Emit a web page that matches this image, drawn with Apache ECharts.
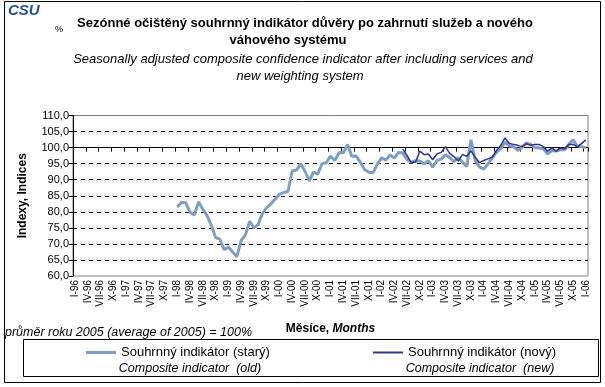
<!DOCTYPE html>
<html><head><meta charset="utf-8">
<script src="https://cdn.jsdelivr.net/npm/echarts@6/dist/echarts.min.js"></script>
<style>html,body{margin:0;padding:0;background:#fff}#c{width:605px;height:387px}</style>
</head><body><div id="c"></div>
<script>
// ---- data ----
const romanMonths = ['I','II','III','IV','V','VI','VII','VIII','IX','X','XI','XII'];
const yearCodes = ['96','97','98','99','00','01','02','03','04','05','06'];
const yTicks = [60,65,70,75,80,85,90,95,100,105,110];
// Souhrnný indikátor (starý), from I-98 to I-06
const oldStart = 'I-98';
const oldValues = [
 81.5, 83.0, 82.8, 79.8, 79.0, 83.1, 80.8, 78.8, 75.8, 72.0,
 71.4, 68.2, 69.0, 67.5, 66.0, 71.0, 72.8, 77.0, 75.0, 76.0,
 79.5, 81.3, 82.5, 84.0, 85.5, 86.0, 86.3, 92.7, 93.0, 95.0,
 92.7, 89.6, 92.4, 91.7, 95.0, 95.3, 97.4, 96.0, 98.4, 98.4,
 101.0, 97.3, 97.4, 95.5, 93.2, 92.3, 92.2, 94.8, 96.8, 96.1,
 97.7, 96.8, 98.5, 98.3, 96.3, 95.4, 95.9, 95.8, 94.9, 95.9,
 93.9, 96.0, 96.4, 97.8, 96.9, 95.6, 96.9, 95.4, 94.1, 102.4,
 96.0, 94.0, 93.3, 94.9, 96.8, 98.5, 99.6, 101.7, 100.5, 100.3,
 99.1, 100.0, 101.5, 101.0, 100.0, 99.9, 99.6, 98.0, 99.1, 98.9,
 99.3, 99.3, 101.0, 102.4, 100.5, 100.3, 99.9
];
// Souhrnný indikátor (nový), from VI-02 to I-06
const newStart = 'VI-02';
const newValues = [
 99.5, 97.5, 95.3, 95.5, 98.9, 97.8, 98.0, 96.2, 98.0, 98.5,
 100.3, 98.2, 97.2, 95.8, 97.8, 97.3, 99.0, 97.0, 95.3, 96.0,
 96.5, 97.0, 99.1, 100.7, 103.0, 101.3, 101.0, 100.7, 100.3, 101.2,
 100.7, 101.0, 101.0, 100.3, 98.9, 99.9, 98.9, 99.9, 99.6, 101.0,
 101.0, 100.2, 101.3, 102.4
];
const oldName = 'Souhrnný indikátor (starý)';
const newName = 'Souhrnný indikátor (nový)';

// ---- build ----
const categories = [];
yearCodes.forEach(y => romanMonths.forEach(m => { if (categories.length < 121) categories.push(m + '-' + y); }));
function pad(start, vals) {
  const k = categories.indexOf(start);
  const out = new Array(categories.length).fill(null);
  vals.forEach((v, i) => { out[k + i] = v; });
  return out;
}
const oldSeries = pad(oldStart, oldValues);
const newSeries = pad(newStart, newValues);

const FONT = 'Liberation Sans, Arial, sans-serif';
const chart = echarts.init(document.getElementById('c'), null, {renderer: 'canvas'});
const gridTop = 115.5, gridH = 160.5;
chart.setOption({
  animation: false,
  backgroundColor: '#fff',
  textStyle: {fontFamily: FONT},
  grid: {left: 73, top: gridTop, width: 515, height: gridH, show: true, borderColor: '#808080', borderWidth: 1, backgroundColor: 'transparent'},
  xAxis: [{
    type: 'category', data: categories, boundaryGap: true, position: 'bottom',
    axisLine: {show: false}, axisTick: {show: false},
    axisLabel: {interval: 2, rotate: 90, fontSize: 10, color: '#000', margin: 4, fontFamily: FONT},
    name: 'Měsíce, {i|Months}', nameLocation: 'middle', nameGap: 47,
    nameTextStyle: {fontSize: 12, fontWeight: 'bold', color: '#000', fontFamily: FONT,
      rich: {i: {fontSize: 12, fontWeight: 'bold', fontStyle: 'italic', color: '#000', fontFamily: FONT}}}
  }, {
    type: 'category', data: categories, boundaryGap: true, position: 'bottom',
    offset: -(100 - yTicks[0]) / (yTicks[yTicks.length-1] - yTicks[0]) * gridH,
    axisLine: {show: true, lineStyle: {color: '#000', width: 1}},
    axisTick: {show: true, interval: 2, length: 4, lineStyle: {color: '#000'}},
    axisLabel: {show: false}
  }],
  yAxis: {
    type: 'value', min: yTicks[0], max: yTicks[yTicks.length-1], interval: 5,
    axisLine: {show: true, lineStyle: {color: '#000'}},
    axisTick: {show: true, length: 4, lineStyle: {color: '#000'}},
    axisLabel: {fontSize: 11, color: '#000', margin: 4, fontFamily: FONT,
      formatter: v => v.toFixed(1).replace('.', ',')},
    splitLine: {show: true, showMinLine: false, showMaxLine: false, lineStyle: {color: '#000', type: [4, 4], width: 1}},
    name: 'Indexy, Indices', nameLocation: 'middle', nameGap: 44, nameRotate: 90,
    nameTextStyle: {fontSize: 12, fontWeight: 'bold', color: '#000', fontFamily: FONT}
  },
  legend: [{
    data: [oldName], left: 86, top: 346, padding: 0, icon: 'rect', itemWidth: 30, itemHeight: 3,
    textStyle: {fontSize: 13, color: '#000', fontFamily: FONT}, selectedMode: false
  }, {
    data: [newName], left: 373, top: 346, padding: 0, icon: 'rect', itemWidth: 30, itemHeight: 2,
    textStyle: {fontSize: 13, color: '#000', fontFamily: FONT}, selectedMode: false
  }],
  series: [{
    name: oldName, type: 'line', data: oldSeries, symbol: 'none', xAxisIndex: 0,
    itemStyle: {color: '#7f9ec3'}, lineStyle: {color: '#7f9ec3', width: 3}, z: 3
  }, {
    name: newName, type: 'line', data: newSeries, symbol: 'none', xAxisIndex: 0,
    itemStyle: {color: '#333387'}, lineStyle: {color: '#333387', width: 1.5}, z: 4
  }],
  graphic: [
    {type: 'rect', shape: {x: 4.5, y: 1.5, width: 596, height: 381}, style: {fill: null, stroke: '#000', lineWidth: 1}, z: -1},
    {type: 'rect', shape: {x: 23.5, y: 339.5, width: 575, height: 37}, style: {fill: null, stroke: '#000', lineWidth: 1}},
    {type: 'text', left: 8, top: 3, style: {text: 'CSU', font: 'italic 900 15px ' + FONT, fill: '#1f4f9c'}},
    {type: 'text', left: 55, top: 25, style: {text: '%', font: '9px ' + FONT, fill: '#000'}},
    {type: 'text', x: 305, y: 23, style: {text: 'Sezónné očištěný souhrnný indikátor důvěry po zahrnutí služeb a nového', font: 'bold 13px ' + FONT, fill: '#000', align: 'center', verticalAlign: 'middle'}},
    {type: 'text', x: 288, y: 40, style: {text: 'váhového systému', font: 'bold 13px ' + FONT, fill: '#000', align: 'center', verticalAlign: 'middle'}},
    {type: 'text', x: 303, y: 59, style: {text: 'Seasonally adjusted composite confidence indicator after including services and', font: 'italic 13px ' + FONT, fill: '#000', align: 'center', verticalAlign: 'middle'}},
    {type: 'text', x: 300, y: 76, style: {text: 'new weighting system', font: 'italic 13px ' + FONT, fill: '#000', align: 'center', verticalAlign: 'middle'}},
    {type: 'text', x: 5, y: 333, style: {text: 'průměr roku 2005 (average of 2005) = 100%', font: 'italic 12.5px ' + FONT, fill: '#000', align: 'left', verticalAlign: 'middle'}},
    {type: 'text', x: 190, y: 369, style: {text: 'Composite indicator  (old)', font: 'italic 12.5px ' + FONT, fill: '#000', align: 'center', verticalAlign: 'middle'}},
    {type: 'text', x: 480, y: 369, style: {text: 'Composite indicator  (new)', font: 'italic 12.5px ' + FONT, fill: '#000', align: 'center', verticalAlign: 'middle'}}
  ]
});
</script></body></html>
